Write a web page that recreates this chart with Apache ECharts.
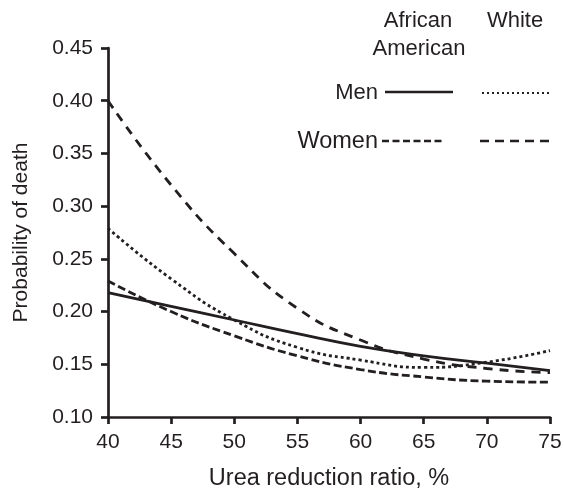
<!DOCTYPE html>
<html>
<head>
<meta charset="utf-8">
<script src="https://cdn.jsdelivr.net/npm/echarts@6/dist/echarts.min.js"></script>
<style>
  html, body { margin: 0; padding: 0; background: #fff; }
  #chart { width: 564px; height: 489px; }
</style>
</head>
<body>
<div id="chart"></div>
<script>
// 数据
var urr = [40, 45, 50, 55, 60, 65, 70, 75];
var aaMen = [0.218, 0.205, 0.192, 0.179, 0.167, 0.158, 0.151, 0.144];
var whiteMen = [0.279, 0.231, 0.192, 0.166, 0.154, 0.147, 0.152, 0.163];
var aaWomen = [0.229, 0.200, 0.177, 0.158, 0.145, 0.138, 0.134, 0.133];
var whiteWomen = [0.400, 0.320, 0.255, 0.203, 0.173, 0.155, 0.146, 0.142];
var yTicks = [0.10, 0.45, 0.05];
var xTicks = [40, 75, 5];

function pairs(vals) {
  return urr.map(function (x, i) { return [x, vals[i]]; });
}

var font = 'Liberation Sans, Arial, sans-serif';
var ink = '#231f20';

function mkSeries(name, vals, dash, w) {
  return {
    name: name,
    type: 'line',
    data: pairs(vals),
    smooth: true,
    symbol: 'none',
    lineStyle: { color: ink, width: w, type: dash },
    z: 3
  };
}

function legendText(txt, x, y, align, size) {
  return {
    type: 'text', x: x, y: y,
    style: { text: txt, fontSize: size || 22, fontFamily: font, fill: ink, align: align, verticalAlign: 'middle' }
  };
}

function legendLine(x1, x2, y, dash, w) {
  return {
    type: 'line', shape: { x1: x1, y1: y, x2: x2, y2: y },
    style: { stroke: ink, lineWidth: w, lineDash: dash }
  };
}

var option = {
  animation: false,
  backgroundColor: '#fff',
  grid: { left: 108, right: 14, top: 48, bottom: 72, outerBoundsMode: 'none', containLabel: false },
  xAxis: {
    type: 'value',
    min: xTicks[0],
    max: xTicks[1],
    interval: xTicks[2],
    name: 'Urea reduction ratio, %',
    nameLocation: 'middle',
    nameGap: 50,
    nameTextStyle: { color: ink, fontSize: 23.5, fontFamily: font },
    axisLine: { lineStyle: { color: ink, width: 2.7 } },
    axisTick: { show: true, length: 7, lineStyle: { color: ink, width: 2.7 } },
    axisLabel: { color: ink, fontSize: 21, fontFamily: font, margin: 15 },
    splitLine: { show: false }
  },
  yAxis: {
    type: 'value',
    min: yTicks[0],
    max: yTicks[1],
    interval: yTicks[2],
    name: 'Probability of death',
    nameLocation: 'middle',
    nameGap: 76,
    nameTextStyle: { color: ink, fontSize: 21, fontFamily: font },
    axisLine: { show: true, lineStyle: { color: ink, width: 2.7 } },
    axisTick: { show: true, length: 7, lineStyle: { color: ink, width: 2.7 } },
    axisLabel: {
      color: ink, fontSize: 21, fontFamily: font, margin: 15,
      formatter: function (v) { return v.toFixed(2); }
    },
    splitLine: { show: false }
  },
  // 图例（手工画）
  graphic: [
    legendText('African', 418, 21, 'center'),
    legendText('American', 419, 49, 'center'),
    legendText('White', 515, 21, 'center'),
    legendText('Men', 378, 93, 'right'),
    legendText('Women', 378, 142, 'right', 23.5),
    legendLine(385, 453, 92, null, 2.7),
    legendLine(482, 549, 93, [2, 3], 2),
    legendLine(382, 443, 141, [7, 3.5], 2.5),
    legendLine(480, 549, 141, [9, 6], 2.5)
  ],
  series: [
    mkSeries('African American Men', aaMen, 'solid', 2.8),
    mkSeries('White Men', whiteMen, [3, 3], 2.8),
    mkSeries('African American Women', aaWomen, [8, 3.5], 2.8),
    mkSeries('White Women', whiteWomen, [9, 7], 2.8)
  ]
};

var myChart = echarts.init(document.getElementById('chart'));
myChart.setOption(option);
</script>
</body>
</html>
